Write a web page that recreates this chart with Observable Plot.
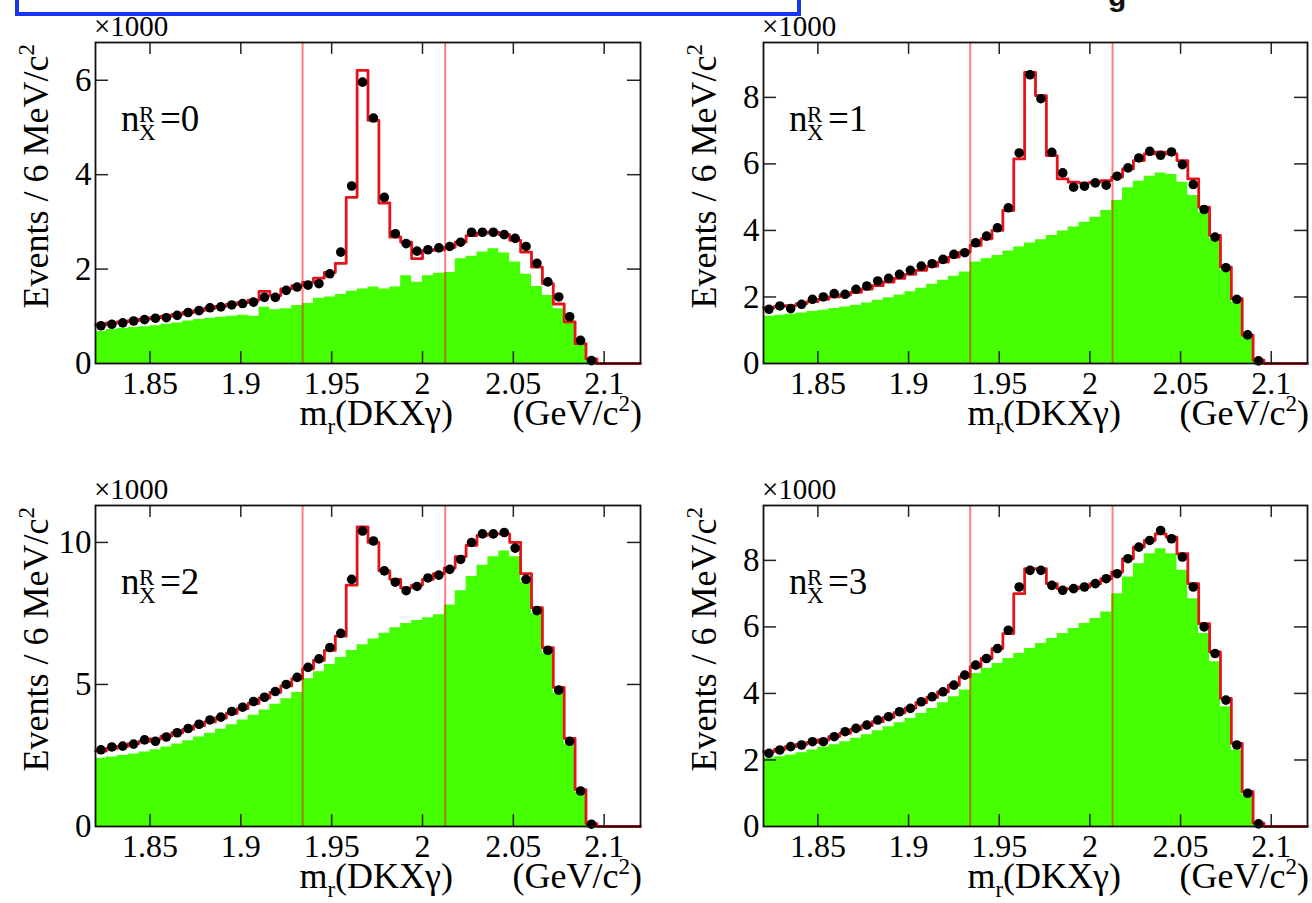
<!DOCTYPE html>
<html>
<head>
<meta charset="utf-8">
<script src="https://cdn.jsdelivr.net/npm/d3@7"></script>
<script src="https://cdn.jsdelivr.net/npm/@observablehq/plot@0.6"></script>
<style>
html, body { margin: 0; padding: 0; background: #fff; }
#wrap { position: relative; width: 1312px; height: 903px; overflow: hidden; background: #fff; }
.panel { position: absolute; }
.panel svg { overflow: visible; display: block; }
#bluebox { position: absolute; left: 15px; top: -30px; width: 778px; height: 38px; border: 4px solid #1a35ef; }
#gtext { position: absolute; left: 1108px; top: -19px; font-family: "Liberation Sans", Arial, sans-serif; font-weight: bold; font-size: 30px; line-height: 30px; color: #111; }
</style>
</head>
<body>
<div id="wrap">
  <div id="bluebox"></div>
  <div id="gtext">g</div>
</div>
<script>
// ---------- data ----------
const binCenters = [1.823, 1.829, 1.835, 1.841, 1.847, 1.853, 1.859, 1.865, 1.871, 1.877,
  1.883, 1.889, 1.895, 1.901, 1.907, 1.913, 1.919, 1.925, 1.931, 1.937,
  1.943, 1.949, 1.955, 1.961, 1.967, 1.973, 1.979, 1.985, 1.991, 1.997,
  2.003, 2.009, 2.015, 2.021, 2.027, 2.033, 2.039, 2.045, 2.051, 2.057,
  2.063, 2.069, 2.075, 2.081, 2.087, 2.093, 2.099, 2.105, 2.111, 2.117];
const halfBin = 0.003;
const xDomain = [1.82, 2.12];
const xTicks = [1.85, 1.9, 1.95, 2, 2.05, 2.1];
const xTickLabels = ["1.85", "1.9", "1.95", "2", "2.05", "2.1"];
const cutLines = [1.934, 2.0125];
const panelLabels = ["0", "1", "2", "3"];
const yMaxes = [6.8, 9.65, 11.3, 9.65];
const yTicks0 = [0, 2, 4, 6];
const yTicks1 = [0, 2, 4, 6, 8];
const yTicks2 = [0, 5, 10];
const yTicks3 = [0, 2, 4, 6, 8];

// n_X^R = 0
const data0 = [0.80,0.83,0.86,0.90,0.93,0.96,0.97,1.02,1.08,1.12,1.18,1.20,1.24,1.27,1.30,1.40,1.40,1.55,1.62,1.66,1.69,1.90,2.36,3.76,5.96,5.20,3.52,2.75,2.54,2.38,2.41,2.45,2.48,2.57,2.78,2.78,2.78,2.73,2.65,2.48,2.12,1.73,1.41,0.99,0.49,0.06,0,0,0,0];
const fit0  = [0.82,0.86,0.88,0.91,0.94,0.97,1.00,1.04,1.08,1.12,1.17,1.21,1.25,1.29,1.34,1.53,1.44,1.58,1.65,1.72,1.81,1.93,2.12,3.52,6.21,5.15,3.40,2.68,2.57,2.22,2.39,2.41,2.46,2.57,2.71,2.76,2.78,2.73,2.61,2.36,2.04,1.69,1.26,0.88,0.42,0.10,0,0,0,0];
const bkg0  = [0.68,0.72,0.74,0.76,0.78,0.80,0.83,0.86,0.90,0.93,0.96,0.98,1.00,1.02,1.00,1.19,1.14,1.16,1.23,1.27,1.38,1.41,1.46,1.53,1.58,1.62,1.58,1.62,1.86,1.72,1.86,1.91,1.93,2.22,2.27,2.36,2.43,2.34,2.15,1.89,1.63,1.44,1.16,0.86,0.40,0.06,0,0,0,0];

// n_X^R = 1
const data1 = [1.63,1.73,1.65,1.78,1.93,2.00,2.10,2.08,2.23,2.33,2.48,2.56,2.68,2.80,2.93,3.00,3.13,3.28,3.33,3.63,3.83,4.08,4.68,6.33,8.68,7.96,6.35,5.73,5.30,5.33,5.43,5.36,5.63,5.88,6.18,6.38,6.26,6.36,5.98,5.38,4.63,3.80,2.88,1.93,0.86,0.08,0,0,0,0];
const fit1  = [1.68,1.72,1.74,1.80,1.86,1.93,2.00,2.06,2.14,2.24,2.34,2.45,2.56,2.68,2.80,2.92,3.05,3.20,3.35,3.55,3.75,4.00,4.60,6.15,8.75,8.05,6.25,5.55,5.45,5.42,5.45,5.50,5.60,5.85,6.10,6.30,6.35,6.30,6.10,5.55,4.70,3.85,2.90,1.95,0.85,0.10,0,0,0,0];
const bkg1  = [1.42,1.45,1.48,1.52,1.56,1.60,1.65,1.70,1.75,1.82,1.90,1.98,2.06,2.16,2.26,2.38,2.50,2.62,2.75,3.05,3.15,3.25,3.38,3.50,3.62,3.72,3.85,3.98,4.10,4.25,4.40,4.60,4.90,5.28,5.48,5.63,5.73,5.68,5.45,5.05,4.55,3.75,2.80,1.85,0.78,0.07,0,0,0,0];

// n_X^R = 2
const data2 = [2.70,2.80,2.83,2.90,3.05,3.00,3.15,3.30,3.45,3.60,3.75,3.85,4.05,4.20,4.40,4.55,4.75,5.00,5.25,5.60,5.90,6.30,6.80,8.70,10.40,10.05,9.00,8.60,8.30,8.45,8.75,8.85,9.05,9.40,10.00,10.30,10.30,10.35,9.80,8.70,7.60,6.20,4.80,3.00,1.25,0.08,0,0,0,0];
const fit2  = [2.65,2.75,2.82,2.92,3.00,3.08,3.18,3.30,3.42,3.55,3.68,3.82,3.98,4.15,4.33,4.52,4.72,4.95,5.20,5.55,5.85,6.20,6.70,8.50,10.55,10.00,9.00,8.70,8.40,8.50,8.70,8.90,9.10,9.50,9.90,10.25,10.30,10.30,10.00,8.90,7.70,6.30,4.90,3.10,1.30,0.10,0,0,0,0];
const bkg2  = [2.40,2.45,2.50,2.55,2.62,2.70,2.80,2.90,3.02,3.15,3.28,3.42,3.58,3.75,3.92,4.10,4.30,4.50,4.72,5.20,5.45,5.70,5.95,6.20,6.40,6.60,6.80,7.00,7.15,7.25,7.35,7.45,7.80,8.30,8.80,9.20,9.50,9.70,9.50,8.60,7.50,6.10,4.70,2.90,1.20,0.05,0,0,0,0];

// n_X^R = 3
const data3 = [2.20,2.30,2.40,2.45,2.55,2.55,2.70,2.85,2.95,3.05,3.20,3.30,3.45,3.55,3.75,3.90,4.05,4.25,4.55,4.85,5.05,5.35,5.90,7.20,7.70,7.70,7.25,7.10,7.15,7.20,7.30,7.45,7.60,8.05,8.40,8.60,8.90,8.65,8.10,7.20,6.00,5.20,3.80,2.45,1.00,0.08,0,0,0,0];
const fit3  = [2.25,2.32,2.40,2.47,2.53,2.60,2.70,2.80,2.92,3.03,3.15,3.28,3.42,3.56,3.72,3.88,4.05,4.25,4.50,4.80,5.05,5.35,5.80,7.00,7.75,7.75,7.30,7.15,7.15,7.20,7.30,7.45,7.65,8.05,8.40,8.60,8.80,8.70,8.20,7.30,6.10,5.25,3.85,2.50,1.05,0.10,0,0,0,0];
const bkg3  = [2.05,2.10,2.15,2.22,2.30,2.38,2.46,2.55,2.65,2.76,2.88,3.00,3.12,3.25,3.40,3.55,3.72,3.90,4.10,4.60,4.75,4.90,5.05,5.20,5.35,5.50,5.65,5.80,5.95,6.10,6.25,6.45,7.00,7.50,7.90,8.20,8.35,8.20,7.70,6.85,5.80,4.95,3.60,2.30,0.95,0.05,0,0,0,0];

const yTitle = "Events / 6 MeV/c";
const xTitleMain = "m";
const xTitleSub = "r";
const xTitleRest = "(DKXγ)";
const xUnit = "(GeV/c";

// ---------- layout ----------
const layout = [
  {left: 0,   top: 0,   w: 656, h: 451, ml: 95,  mr: 16, mt: 42, mb: 88},
  {left: 656, top: 0,   w: 656, h: 451, ml: 107, mr: 5,  mt: 42, mb: 88},
  {left: 0,   top: 451, w: 656, h: 452, ml: 95,  mr: 16, mt: 54, mb: 77},
  {left: 656, top: 451, w: 656, h: 452, ml: 107, mr: 5,  mt: 54, mb: 77}
];
const series = [
  {data: data0, fit: fit0, bkg: bkg0, yTicks: yTicks0},
  {data: data1, fit: fit1, bkg: bkg1, yTicks: yTicks1},
  {data: data2, fit: fit2, bkg: bkg2, yTicks: yTicks2},
  {data: data3, fit: fit3, bkg: bkg3, yTicks: yTicks3}
];

const wrap = document.getElementById("wrap");
const serif = "'Liberation Serif', 'Times New Roman', serif";

function addText(g, x, y, size, anchor) {
  return g.append("text").attr("x", x).attr("y", y)
    .attr("font-size", size).attr("font-family", serif)
    .attr("text-anchor", anchor || "start").attr("fill", "black");
}

series.forEach((s, p) => {
  const cfg = layout[p];
  const yMax = yMaxes[p];
  const rows = binCenters.map((c, i) => ({c, lo: c - halfBin, data: s.data[i], fit: s.fit[i], bkg: s.bkg[i]}));
  const last = rows[rows.length - 1];
  const steps = rows.map(r => ({x: r.lo, fit: r.fit, bkg: r.bkg}))
    .concat([{x: last.c + halfBin, fit: last.fit, bkg: last.bkg}]);
  const xSpan = xDomain[1] - xDomain[0];
  const tickFracY = 0.037;
  const tickFracX = 0.024;
  const inner = s.yTicks.filter(d => d > 0);

  const svg = Plot.plot({
    width: cfg.w, height: cfg.h,
    marginLeft: cfg.ml, marginRight: cfg.mr, marginTop: cfg.mt, marginBottom: cfg.mb,
    x: {domain: xDomain},
    y: {domain: [0, yMax]},
    style: {fontFamily: serif, background: "transparent", overflow: "visible", color: "black"},
    marks: [
      Plot.areaY(steps, {x: "x", y: "bkg", curve: "step-after", fill: "#46ff00"}),
      Plot.ruleX(cutLines, {x: d => d, stroke: "#ff0000", strokeOpacity: 0.5, strokeWidth: 2}),
      Plot.lineY(steps, {x: "x", y: "fit", curve: "step-after", stroke: "#e5141b", strokeWidth: 2.8}),
      Plot.dot(rows.filter(r => r.data > 0), {x: "c", y: "data", r: 4.8, fill: "black"}),
      Plot.ruleX(xTicks, {x: d => d, y1: 0, y2: yMax * tickFracY, stroke: "#222", strokeWidth: 1.5}),
      Plot.ruleX(xTicks, {x: d => d, y1: yMax, y2: yMax * (1 - tickFracY), stroke: "#222", strokeWidth: 1.5}),
      Plot.ruleY(inner, {y: d => d, x1: xDomain[0], x2: xDomain[0] + xSpan * tickFracX, stroke: "#222", strokeWidth: 1.5}),
      Plot.ruleY(inner, {y: d => d, x1: xDomain[1], x2: xDomain[1] - xSpan * tickFracX, stroke: "#222", strokeWidth: 1.5}),
      Plot.frame({stroke: "#111", strokeWidth: 1.8}),
      Plot.axisX(xTicks, {tickSize: 0, tickPadding: 8, fontSize: 32, label: null,
        tickFormat: d => xTickLabels[xTicks.indexOf(d)]}),
      Plot.axisY(s.yTicks, {tickSize: 0, tickPadding: 4, fontSize: 33, label: null})
    ]
  });

  const g = d3.select(svg);
  const fl = cfg.ml, ft = cfg.mt, fr = cfg.w - cfg.mr, fb = cfg.h - cfg.mb;

  // ×1000
  addText(g, fl - 1, ft - 6, 29).text("×1000");

  // y title (rotated)
  const yt = g.append("text")
    .attr("transform", `translate(${fl - 47},${ft + 2}) rotate(-90)`)
    .attr("text-anchor", "end").attr("font-family", serif)
    .attr("font-size", 36).attr("fill", "black");
  yt.append("tspan").text(yTitle);
  yt.append("tspan").attr("font-size", 23).attr("dy", -14).text("2");

  // panel label n_X^R = k
  const bx = fl + 26, by = ft + 89;
  addText(g, bx, by, 37).text("n");
  addText(g, bx + 18, by - 9, 23).text("R");
  addText(g, bx + 18, by + 9, 23).text("X");
  addText(g, bx + 39, by, 37).text("=" + panelLabels[p]);

  // x title
  const xt = addText(g, fl + 358, fb + 62, 36, "end");
  xt.append("tspan").text(xTitleMain);
  xt.append("tspan").attr("font-size", 23).attr("dy", 9).text(xTitleSub);
  xt.append("tspan").attr("dy", -9).text(xTitleRest);

  const xu = addText(g, fr + 2, fb + 62, 36, "end");
  xu.append("tspan").text(xUnit);
  xu.append("tspan").attr("font-size", 23).attr("dy", -14).text("2");
  xu.append("tspan").attr("dy", 14).text(")");

  const div = document.createElement("div");
  div.className = "panel";
  div.style.left = cfg.left + "px";
  div.style.top = cfg.top + "px";
  div.appendChild(svg);
  wrap.appendChild(div);
});
</script>
</body>
</html>
